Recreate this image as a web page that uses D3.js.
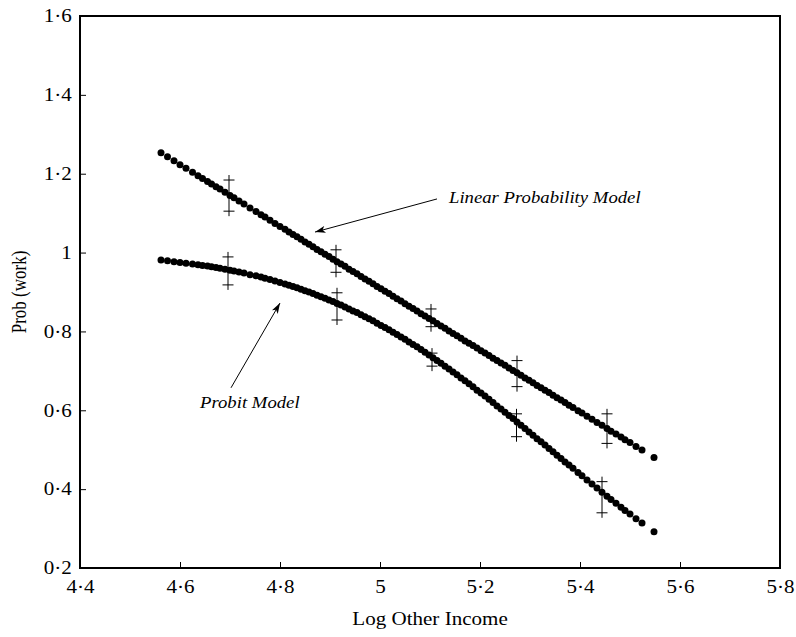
<!DOCTYPE html>
<html>
<head>
<meta charset="utf-8">
<script src="https://cdn.jsdelivr.net/npm/d3@7"></script>
<style>
  body { margin: 0; background: #fff; }
</style>
</head>
<body>
<script>
// predicted probabilities, one dot per observation
const logIncome = [4.562, 4.575, 4.588, 4.600, 4.612, 4.625, 4.636, 4.645, 4.655, 4.663, 4.672, 4.680, 4.690, 4.700, 4.708, 4.718, 4.728, 4.740, 4.752, 4.762, 4.770, 4.780, 4.790, 4.800, 4.810, 4.818, 4.826, 4.834, 4.842, 4.850, 4.858, 4.866, 4.874, 4.882, 4.890, 4.898, 4.906, 4.914, 4.922, 4.930, 4.938, 4.946, 4.954, 4.962, 4.970, 4.978, 4.986, 4.994, 5.002, 5.010, 5.018, 5.026, 5.034, 5.042, 5.050, 5.058, 5.066, 5.074, 5.082, 5.090, 5.098, 5.106, 5.114, 5.122, 5.130, 5.138, 5.146, 5.154, 5.162, 5.170, 5.178, 5.186, 5.194, 5.202, 5.210, 5.218, 5.226, 5.234, 5.242, 5.250, 5.258, 5.266, 5.274, 5.282, 5.290, 5.298, 5.306, 5.314, 5.322, 5.330, 5.338, 5.346, 5.354, 5.362, 5.370, 5.378, 5.386, 5.396, 5.404, 5.414, 5.424, 5.434, 5.444, 5.454, 5.462, 5.472, 5.482, 5.490, 5.500, 5.512, 5.524, 5.548];

const linearProb = [1.253, 1.243, 1.233, 1.223, 1.214, 1.204, 1.195, 1.188, 1.180, 1.174, 1.167, 1.161, 1.153, 1.145, 1.139, 1.131, 1.123, 1.113, 1.104, 1.096, 1.090, 1.082, 1.074, 1.066, 1.059, 1.052, 1.046, 1.040, 1.034, 1.027, 1.021, 1.015, 1.008, 1.002, 0.996, 0.990, 0.983, 0.977, 0.971, 0.965, 0.958, 0.952, 0.946, 0.939, 0.933, 0.927, 0.921, 0.914, 0.908, 0.902, 0.896, 0.889, 0.883, 0.877, 0.870, 0.864, 0.858, 0.852, 0.845, 0.839, 0.833, 0.827, 0.820, 0.814, 0.808, 0.801, 0.795, 0.789, 0.783, 0.776, 0.770, 0.764, 0.758, 0.751, 0.745, 0.739, 0.732, 0.726, 0.720, 0.714, 0.707, 0.701, 0.695, 0.689, 0.682, 0.676, 0.670, 0.663, 0.657, 0.651, 0.645, 0.638, 0.632, 0.626, 0.620, 0.613, 0.607, 0.599, 0.593, 0.585, 0.577, 0.569, 0.562, 0.554, 0.547, 0.540, 0.532, 0.525, 0.518, 0.508, 0.499, 0.480];

const probitProb = [0.981, 0.979, 0.977, 0.975, 0.973, 0.971, 0.969, 0.967, 0.966, 0.964, 0.962, 0.960, 0.958, 0.955, 0.953, 0.951, 0.948, 0.944, 0.941, 0.938, 0.935, 0.932, 0.928, 0.924, 0.920, 0.917, 0.914, 0.911, 0.907, 0.903, 0.900, 0.896, 0.892, 0.888, 0.884, 0.880, 0.876, 0.871, 0.867, 0.862, 0.857, 0.852, 0.848, 0.842, 0.837, 0.832, 0.827, 0.821, 0.815, 0.810, 0.804, 0.798, 0.792, 0.786, 0.780, 0.773, 0.767, 0.761, 0.754, 0.747, 0.740, 0.733, 0.726, 0.719, 0.712, 0.705, 0.697, 0.690, 0.682, 0.675, 0.667, 0.660, 0.651, 0.644, 0.636, 0.628, 0.620, 0.611, 0.603, 0.595, 0.587, 0.579, 0.570, 0.562, 0.554, 0.545, 0.537, 0.528, 0.520, 0.512, 0.503, 0.495, 0.486, 0.478, 0.469, 0.461, 0.453, 0.442, 0.434, 0.423, 0.413, 0.403, 0.392, 0.382, 0.374, 0.364, 0.354, 0.346, 0.337, 0.325, 0.314, 0.292];

// grouped means with intervals
const barIncomeLinear = [4.698, 4.912, 5.102, 5.274, 5.454];
const linearLow = [1.105, 0.950, 0.812, 0.660, 0.516];
const linearHigh = [1.184, 1.007, 0.857, 0.726, 0.591];

const barIncomeProbit = [4.696, 4.914, 5.104, 5.273, 5.444];
const probitLow = [0.918, 0.829, 0.712, 0.533, 0.340];
const probitHigh = [0.989, 0.898, 0.745, 0.591, 0.419];

const xTicks = [4.4, 4.6, 4.8, 5.0, 5.2, 5.4, 5.6, 5.8];
const xTickLabels = ["4·4", "4·6", "4·8", "5", "5·2", "5·4", "5·6", "5·8"];
const yTicks = [0.2, 0.4, 0.6, 0.8, 1.0, 1.2, 1.4, 1.6];
const yTickLabels = ["0·2", "0·4", "0·6", "0·8", "1", "1·2", "1·4", "1·6"];

const svgWidth = 796;
const svgHeight = 637;
const margin = { top: 16, right: 16, bottom: 69, left: 80 };
const font = "'Liberation Serif', 'Times New Roman', serif";
const sx = 1.17; // the original type is a little wide

const svg = d3.select("body")
  .append("svg")
  .attr("width", svgWidth)
  .attr("height", svgHeight)
  .style("font-family", font);

const x = d3.scaleLinear()
  .domain([4.4, 5.8])
  .range([margin.left, svgWidth - margin.right]);

const y = d3.scaleLinear()
  .domain([0.2, 1.6])
  .range([svgHeight - margin.bottom, margin.top]);

// axes, ticks pointing inwards
svg.append("g")
  .attr("transform", `translate(0,${svgHeight - margin.bottom})`)
  .call(d3.axisBottom(x)
    .tickValues(xTicks)
    .tickFormat((d, i) => xTickLabels[i])
    .tickSize(-6)
    .tickPadding(12))
  .call(g => g.select(".domain").remove())
  .call(g => g.selectAll("line").attr("stroke", "#000").attr("stroke-width", 1))
  .call(g => g.selectAll("text")
    .attr("fill", "#000")
    .attr("transform", `scale(${sx},1)`)
    .style("font-family", font)
    .style("font-size", "18px"));

svg.append("g")
  .attr("transform", `translate(${margin.left},0)`)
  .call(d3.axisLeft(y)
    .tickValues(yTicks)
    .tickFormat((d, i) => yTickLabels[i])
    .tickSize(-6)
    .tickPadding(7))
  .call(g => g.select(".domain").remove())
  .call(g => g.selectAll("line").attr("stroke", "#000").attr("stroke-width", 1))
  .call(g => g.selectAll("text")
    .attr("fill", "#000")
    .attr("transform", `scale(${sx},1)`)
    .style("font-family", font)
    .style("font-size", "18px"));

// frame
svg.append("rect")
  .attr("x", x(4.4))
  .attr("y", y(1.6))
  .attr("width", x(5.8) - x(4.4))
  .attr("height", y(0.2) - y(1.6))
  .attr("fill", "none")
  .attr("stroke", "#000")
  .attr("stroke-width", 2);

// axis titles
svg.append("text")
  .attr("transform", `translate(${(x(4.4) + x(5.8)) / 2},${svgHeight - 12}) scale(${sx},1)`)
  .attr("text-anchor", "middle")
  .style("font-size", "18px")
  .text("Log Other Income");

svg.append("text")
  .attr("transform", `translate(26,${(y(0.2) + y(1.6)) / 2}) rotate(-90) scale(1,${sx})`)
  .attr("text-anchor", "middle")
  .style("font-size", "17px")
  .text("Prob (work)");

// error bars
function drawBars(xs, lo, hi) {
  const g = svg.append("g")
    .attr("stroke", "#000")
    .attr("stroke-width", 1);
  xs.forEach((xv, i) => {
    const cx = x(xv);
    g.append("line")
      .attr("x1", cx).attr("x2", cx)
      .attr("y1", y(hi[i]) - 5).attr("y2", y(lo[i]) + 5);
    [hi[i], lo[i]].forEach(v => {
      g.append("line")
        .attr("x1", cx - 5.5).attr("x2", cx + 5.5)
        .attr("y1", y(v)).attr("y2", y(v));
    });
  });
}
drawBars(barIncomeLinear, linearLow, linearHigh);
drawBars(barIncomeProbit, probitLow, probitHigh);

// dots
[linearProb, probitProb].forEach(series => {
  svg.append("g")
    .selectAll("circle")
    .data(logIncome)
    .join("circle")
    .attr("cx", d => x(d))
    .attr("cy", (d, i) => y(series[i]))
    .attr("r", 3.5)
    .attr("fill", "#000");
});

// annotations
svg.append("defs").append("marker")
  .attr("id", "arrow")
  .attr("viewBox", "0 0 12 8")
  .attr("refX", 12)
  .attr("refY", 4)
  .attr("markerWidth", 12)
  .attr("markerHeight", 7)
  .attr("markerUnits", "userSpaceOnUse")
  .attr("orient", "auto")
  .append("path")
  .attr("d", "M0,0L12,4L0,8L3,4z")
  .attr("fill", "#000");

svg.append("line")
  .attr("x1", x(5.114)).attr("y1", y(1.136))
  .attr("x2", x(4.870)).attr("y2", y(1.052))
  .attr("stroke", "#000")
  .attr("stroke-width", 1)
  .attr("marker-end", "url(#arrow)");

svg.append("text")
  .attr("transform", `translate(${x(5.138)},${y(1.126)}) scale(${sx},1)`)
  .style("font-size", "16px")
  .style("font-style", "italic")
  .text("Linear Probability Model");

svg.append("line")
  .attr("x1", x(4.702)).attr("y1", y(0.657))
  .attr("x2", x(4.800)).attr("y2", y(0.872))
  .attr("stroke", "#000")
  .attr("stroke-width", 1)
  .attr("marker-end", "url(#arrow)");

svg.append("text")
  .attr("transform", `translate(${x(4.640)},${y(0.606)}) scale(${sx},1)`)
  .style("font-size", "16px")
  .style("font-style", "italic")
  .text("Probit Model");
</script>
</body>
</html>
